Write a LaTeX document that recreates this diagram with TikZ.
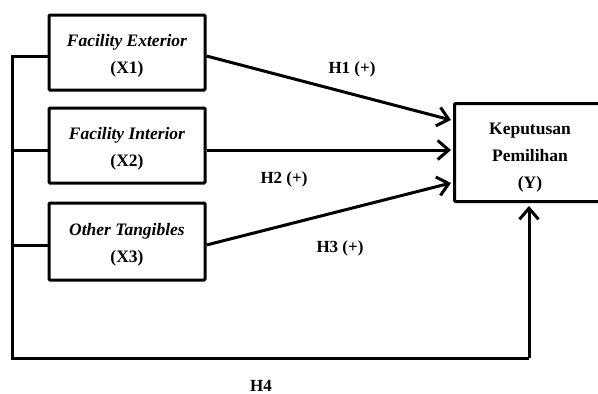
\documentclass[tikz,border=0pt]{standalone}
\usepackage{fontspec}
\setmainfont{Liberation Serif}
\usetikzlibrary{arrows.meta}
\begin{document}
\begin{tikzpicture}[x=1pt,y=-1pt,
  box/.style={draw,line width=3pt,rounded corners=1pt,inner sep=0pt},
  boxtext/.style={inner sep=0pt,align=center,font=\fontsize{17.5}{27}\selectfont\bfseries},
  link/.style={line width=3pt},
  arr/.style={line width=3pt,-{Straight Barb[length=11pt,width=19pt,line width=3pt]}},
  lab/.style={font=\fontsize{17}{18}\selectfont\bfseries}]
\useasboundingbox (0,0) rectangle (598,394);
\node[box,minimum width=156pt,minimum height=75pt] (x1) at (127,52.5) {};
\node[box,minimum width=156pt,minimum height=75pt] (x2) at (127,145.5) {};
\node[box,minimum width=156pt,minimum height=77pt] (x3) at (127,241.5) {};
\node[box,minimum width=160pt,minimum height=98pt,anchor=north west] (y) at (453,102) {};
\node[boxtext] (t1) at (127,56) {\textit{Facility Exterior}\\(X1)};
\node[boxtext] (t2) at (127,149) {\textit{Facility Interior}\\(X2)};
\node[boxtext] (t3) at (127,245) {\textit{Other Tangibles}\\(X3)};
\node[boxtext] (ytext) at (530,157.5) {Keputusan\\Pemilihan\\(Y)};
\coordinate (ya) at (451,120);
\coordinate (yb) at (451,150);
\coordinate (yc) at (451,183);
\coordinate (l1) at (12,56);
\coordinate (l2) at (12,150);
\coordinate (l3) at (12,245);
\coordinate (c1) at (12,358);
\coordinate (c2) at (529,358);
\coordinate (yd) at (529,206);
\draw[arr] (x1.east |- 0,56) -- (ya);
\draw[arr] (x2.east |- 0,150) -- (yb);
\draw[arr] (x3.east |- 0,245) -- (yc);
\draw[link] (x1.west |- l1) -- (l1) -- (c1) -- (c2);
\draw[arr] (c2) -- (yd);
\draw[link] (l2) -- (x2.west |- l2);
\draw[link] (l3) -- (x3.west |- l3);
\node[lab] (h1) at (352,69) {H1 (+)};
\node[lab] (h2) at (284,179) {H2 (+)};
\node[lab] (h3) at (340,248) {H3 (+)};
\node[lab] (h4) at (261,386) {H4};
\end{tikzpicture}
\end{document}
